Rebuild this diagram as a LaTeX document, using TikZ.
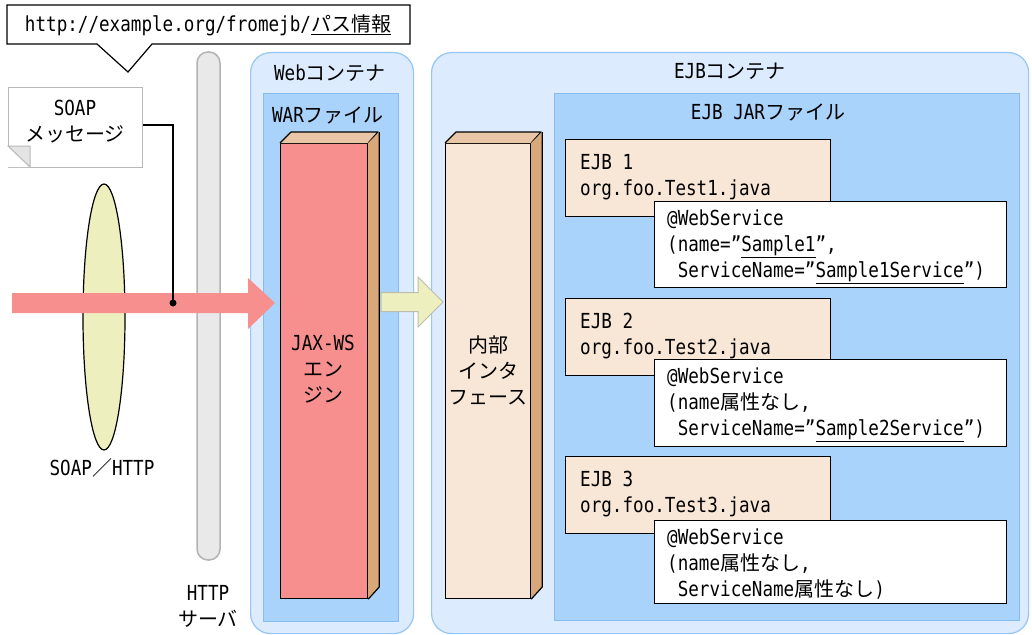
\documentclass[tikz,border=0pt]{standalone}
\usepackage{fontspec}
\setmainfont{DejaVu Sans Mono}[FakeStretch=0.85]
\newfontfamily\jpfont{Noto Sans CJK JP}
\newcommand\J[1]{{\jpfont\fontsize{20}{26}\selectfont #1}}
\usetikzlibrary{shapes.geometric}
\definecolor{pinkc}{HTML}{F88F8F}
\definecolor{yelc}{HTML}{EEEFBE}
\definecolor{yelb}{HTML}{BDBDAE}
\definecolor{contc}{HTML}{DCEBFD}
\definecolor{contb}{HTML}{96C6F5}
\definecolor{jarc}{HTML}{A9D3FB}
\definecolor{jarb}{HTML}{86BDF0}
\definecolor{tantop}{HTML}{E9C6A6}
\definecolor{tanside}{HTML}{D8A87A}
\definecolor{beige}{HTML}{F8E6D6}
\definecolor{barc}{HTML}{E9E9E9}
\definecolor{barb}{HTML}{B3B3B3}
\definecolor{noteb}{HTML}{B8B8B8}
\definecolor{foldc}{HTML}{E4E4E4}
\tikzset{
  lbl/.style={font=\fontsize{20.7}{26}\selectfont, inner sep=0pt},
  mlbl/.style={lbl, align=center, anchor=north},
  code/.style={lbl, align=left, anchor=north west},
  container/.style={draw=contb, fill=contc, line width=1.2pt, rounded corners=20pt, rectangle, anchor=north west, inner sep=0pt},
  archive/.style={draw=jarb, fill=jarc, line width=1pt, rectangle, anchor=north west, inner sep=0pt},
  front/.style={draw=black, line width=1.2pt, rectangle, anchor=north west, inner sep=0pt},
  ejbbox/.style={draw=black, fill=beige, line width=1.2pt, rectangle, anchor=north west, inner sep=0pt, minimum width=265pt, minimum height=77pt},
  annot/.style={draw=black, fill=white, line width=1.2pt, rectangle, anchor=north west, inner sep=0pt, minimum width=352pt},
  face/.style={draw=black, line width=1.2pt, line join=round},
}
\begin{document}
\begin{tikzpicture}[x=1pt,y=-1pt]
\useasboundingbox (0,0) rectangle (1032,634);
\fill[white] (0,0) rectangle (1032,634);

% containers
\node[container, minimum width=163pt, minimum height=581pt] (web) at (250,52) {};
\node[lbl] (weblbl) at (330,73) {Web\J{コンテナ}};
\node[archive, minimum width=135pt, minimum height=528pt] (war) at (263,93) {};
\node[lbl] (warlbl) at (328,115) {WAR\J{ファイル}};

\node[container, minimum width=597pt, minimum height=581pt] (ejbc) at (431,52) {};
\node[lbl] (ejbclbl) at (730,71) {EJB\J{コンテナ}};
\node[archive, minimum width=465pt, minimum height=527pt] (jar) at (554,93) {};
\node[lbl] (jarlbl) at (768,112) {EJB JAR\J{ファイル}};

% JAX-WS engine (3D box)
\node[front, fill=pinkc, minimum width=87pt, minimum height=455pt] (jax) at (280,143) {};
\fill[tantop] (jax.north west) -- ++(11,-11) -- ++(87,0) -- (jax.north east) -- cycle;
\draw[face] (jax.north west) -- ++(11,-11) -- ++(87,0) -- (jax.north east);
\fill[tanside] (jax.north east) -- ++(11,-11) -- ++(0,455) -- (jax.south east) -- cycle;
\draw[face] (jax.north east) ++(11,-11) -- ++(0,455) -- (jax.south east);
\node[mlbl] (jaxlbl) at (323,332) {\strut JAX-WS\\\J{エン}\\\J{ジン}};

% internal interface (3D box)
\node[front, fill=beige, minimum width=85pt, minimum height=455pt] (iface) at (445,143) {};
\fill[tantop] (iface.north west) -- ++(11,-11) -- ++(85,0) -- (iface.north east) -- cycle;
\draw[face] (iface.north west) -- ++(11,-11) -- ++(85,0) -- (iface.north east);
\fill[tanside] (iface.north east) -- ++(11,-11) -- ++(0,455) -- (iface.south east) -- cycle;
\draw[face] (iface.north east) ++(11,-11) -- ++(0,455) -- (iface.south east);
\node[mlbl] (ifacelbl) at (488,334) {\strut\J{内部}\\\J{インタ}\\\J{フェース}};

% EJBs
\node[ejbbox] (e1) at (565,139) {};
\node[code] (e1t) at (580,151) {\strut EJB 1\\org.foo.Test1.java};
\node[annot, minimum height=86pt] (a1) at (654,201) {};
\node[code] (a1t) at (667,207) {\strut @WebService\\(name=”\underline{Sample1}”,\\\ ServiceName=”\underline{Sample1Service}”)};

\node[ejbbox] (e2) at (565,298) {};
\node[code] (e2t) at (580,310) {\strut EJB 2\\org.foo.Test2.java};
\node[annot, minimum height=87pt] (a2) at (654,359) {};
\node[code] (a2t) at (667,365) {\strut @WebService\\(name\J{属性なし},\\\ ServiceName=”\underline{Sample2Service}”)};

\node[ejbbox] (e3) at (565,456) {};
\node[code] (e3t) at (580,468) {\strut EJB 3\\org.foo.Test3.java};
\node[annot, minimum height=83pt] (a3) at (654,520) {};
\node[code] (a3t) at (667,526) {\strut @WebService\\(name\J{属性なし},\\\ ServiceName\J{属性なし})};

% URL callout
\draw[line width=1.2pt, fill=white, line join=miter] (7,5) -- (410,5) -- (410,44) -- (152,44) -- (128,72) -- (97,44) -- (7,44) -- cycle;
\node[lbl] (url) at (208,25) {http://example.org/fromejb/\underline{\J{パス情報}}};

% SOAP message note
\node[draw=noteb, fill=white, line width=1pt, rectangle, anchor=north west, minimum width=134pt, minimum height=80pt, inner sep=0pt] (note) at (8,87) {};
\fill[white] (8,146) -- (30,167) -- (8,167) -- cycle;
\draw[noteb, line width=1pt, fill=foldc] (8,146) -- (30,146) -- (30,167) -- cycle;
\node[mlbl] (notelbl) at (75,97) {\strut SOAP\\\J{メッセージ}};

% SOAP/HTTP wire
\node[ellipse, draw=black, fill=yelc, line width=1.2pt, minimum width=42pt, minimum height=266pt, inner sep=0pt] (wire) at (104,317) {};
\node[lbl] (wirelbl) at (102,468) {SOAP\J{／}HTTP};

% HTTP server bar
\node[draw=barb, fill=barc, line width=1.5pt, rectangle, rounded corners=11pt, minimum width=23pt, minimum height=508pt, inner sep=0pt] (http) at (208.5,306) {};
\node[mlbl] (httplbl) at (208,582) {\strut HTTP\\\J{サーバ}};

% request arrow
\coordinate (reqs) at (12,303);
\coordinate (reqt) at (275,303);
\fill[pinkc] ([yshift=-10]reqs) -- ([xshift=-27,yshift=-10]reqt) -- ([xshift=-27,yshift=-26]reqt) -- (reqt) -- ([xshift=-27,yshift=25]reqt) -- ([xshift=-27,yshift=10]reqt) -- ([yshift=10]reqs) -- cycle;

% note connector
\coordinate (dot) at (173,303);
\draw[line width=1.2pt] (note.east |- 0,125) -| (dot);
\fill (dot) circle (3.5);

% engine -> interface arrow
\coordinate (ys) at (381,302);
\coordinate (yt) at (443,302);
\draw[yelb, fill=yelc, line width=1pt, line join=miter] ([yshift=-9.5]ys) -- ([xshift=-25,yshift=-9.5]yt) -- ([xshift=-25,yshift=-25]yt) -- (yt) -- ([xshift=-25,yshift=25]yt) -- ([xshift=-25,yshift=9.5]yt) -- ([yshift=9.5]ys) -- cycle;
\end{tikzpicture}
\end{document}
